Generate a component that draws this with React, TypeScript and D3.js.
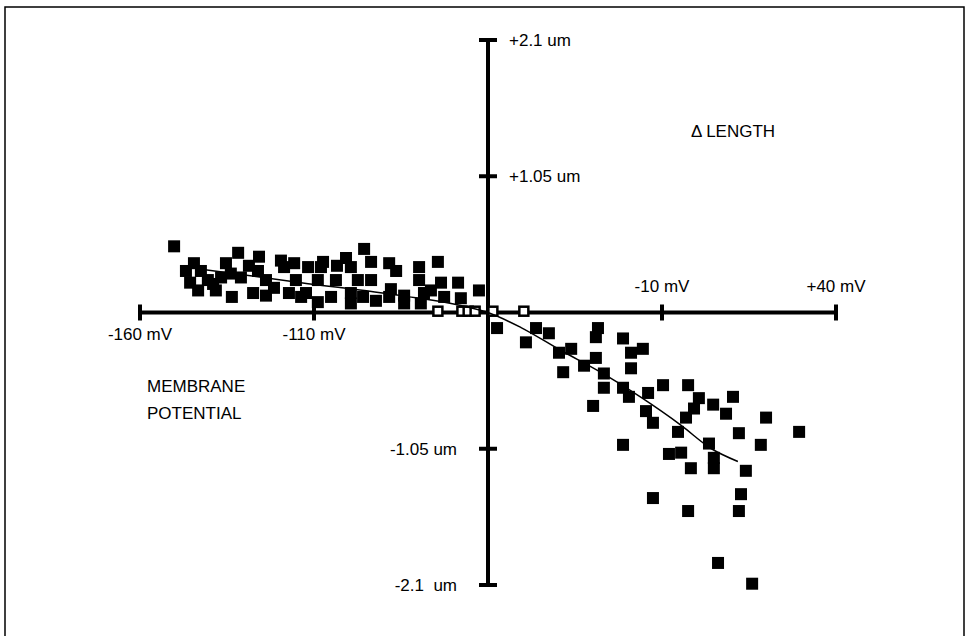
import React, { useEffect, useRef } from 'react';
import * as d3 from 'd3';

const width = 968;
const height = 636;

// membrane potential (mV) vs change in length (um)
const filledMv = [
  -150.2, -144.5, -145.6, -143.3, -140.5, -139, -135.3, -131.8, -133.6, -127.5,
  -125.8, -126.1, -131, -121.5, -118.6, -117.2, -115.7, -111.7, -112.3, -108,
  -119.5, -133.9, -136.7, -95.6, -100.8, -107.4, -93.6, -88.4, -99.4, -74.4,
  -79.8, -79.8, -68.6, -97.4, -93.6, -87.9, -108.9, -108.9, -99.4, -95.9,
  -88.4, -84.1, -78.4, -72.6, -62.6, -84.1, -79.3, -99.4, -105.1, -142.5,
  -123.8, -115.2, -103.7, -103.4, -128.7, -67.8, -138.2, -123.8, -113.7, -92.2,
  -86.4, -76.4, -73.5, -146.8,
  -57.4, -49.1, -46.2, -42.5, -39.6, -36.1, -38.4, -28.4, -29, -32.4,
  -29, -26.7, -21.2, -18.9, -15.5, -18.9, -26.7, -21.2, -29.8, -19.5,
  -14, -14.6, -9.7, -2.5, 0.6, -0.8, -3.1, 4.7, 10.4, 8.4,
  19.9, -12.6, -5.4, 12.1, 29.4, -21.2, -8, -4.5, 3.5, 4.9,
  18.4, -1.7, 4.9, 14.1, -12.6, -2.5, 12.7, 12.1, 6.1, 15.9,
];
const filledUm = [
  0.51, 0.38, 0.23, 0.17, 0.25, 0.22, 0.38, 0.46, 0.12, 0.15,
  0.43, 0.32, 0.27, 0.19, 0.35, 0.15, 0.38, 0.35, 0.15, 0.35,
  0.40, 0.30, 0.27, 0.49, 0.42, 0.39, 0.39, 0.38, 0.35, 0.39,
  0.35, 0.25, 0.23, 0.25, 0.25, 0.18, 0.25, 0.08, 0.15, 0.12,
  0.12, 0.13, 0.15, 0.12, 0.17, 0.07, 0.07, 0.07, 0.12, 0.32,
  0.25, 0.25, 0.25, 0.36, 0.36, 0.11, 0.17, 0.13, 0.12, 0.09,
  0.32, 0.17, 0.23, 0.32,
  -0.12, -0.23, -0.12, -0.16, -0.31, -0.28, -0.46, -0.12, -0.19, -0.41,
  -0.35, -0.47, -0.20, -0.31, -0.28, -0.43, -0.58, -0.58, -0.72, -0.65,
  -0.62, -0.76, -0.56, -0.56, -0.66, -0.74, -0.81, -0.71, -0.65, -0.78,
  -0.81, -0.85, -0.92, -0.93, -0.92, -1.02, -1.09, -1.08, -1.01, -1.12,
  -1.02, -1.20, -1.20, -1.22, -1.43, -1.53, -1.40, -1.53, -1.93, -2.09,
];

const openMv = [-74.4, -67.5, -65.7, -63.7, -58.6, -49.7];
const openUm = [0.01, 0.01, 0.01, 0.01, 0.01, 0.01];

const fitMv = [-144, -113.7, -85, -67.8, -60, -50.5, -39, -27.5, -16, -4.5, 4.1, 11.8];
const fitUm = [0.34, 0.23, 0.13, 0.054, 0, -0.116, -0.293, -0.462, -0.655, -0.87, -1.048, -1.148];

const xTicks = [-160, -110, -10, 40];
const xTickLabels = ['-160 mV', '-110 mV', '-10 mV', '+40 mV'];
const yTicks = [2.1, 1.05, -1.05, -2.1];
const yTickLabels = ['+2.1 um', '+1.05 um', '-1.05 um', '-2.1  um'];

const App = () => {
  const ref = useRef<SVGSVGElement>(null);

  useEffect(() => {
    const svg = d3.select(ref.current);
    svg.selectAll('*').remove();

    const x = d3.scaleLinear().domain([-160, 40]).range([140, 836]);
    const y = d3.scaleLinear().domain([-2.1, 2.1]).range([585, 40]);
    const font = '"Liberation Sans", Arial, sans-serif';
    const fs = '17px';

    svg.append('rect')
      .attr('x', 5).attr('y', 7)
      .attr('width', 959).attr('height', 650)
      .attr('fill', 'none').attr('stroke', '#000').attr('stroke-width', 1.5);

    // axes cross at (-60 mV, 0 um)
    svg.append('line')
      .attr('x1', x(-160)).attr('x2', x(40))
      .attr('y1', y(0)).attr('y2', y(0))
      .attr('stroke', '#000').attr('stroke-width', 4);
    svg.append('line')
      .attr('x1', x(-60)).attr('x2', x(-60))
      .attr('y1', y(2.1)).attr('y2', y(-2.1))
      .attr('stroke', '#000').attr('stroke-width', 4);

    xTicks.forEach((t, i) => {
      svg.append('line')
        .attr('x1', x(t)).attr('x2', x(t))
        .attr('y1', y(0) - 8).attr('y2', y(0) + 8)
        .attr('stroke', '#000').attr('stroke-width', 4);
      const above = t > -60;
      svg.append('text')
        .attr('x', x(t))
        .attr('y', above ? y(0) - 21 : y(0) + 27)
        .attr('text-anchor', 'middle')
        .style('font-family', font).style('font-size', fs)
        .text(xTickLabels[i]);
    });

    yTicks.forEach((t, i) => {
      svg.append('line')
        .attr('x1', x(-60) - 9).attr('x2', x(-60) + 9)
        .attr('y1', y(t)).attr('y2', y(t))
        .attr('stroke', '#000').attr('stroke-width', 4);
      const pos = t > 0;
      svg.append('text')
        .attr('x', pos ? x(-60) + 21 : x(-60) - 31)
        .attr('y', y(t) + 6)
        .attr('text-anchor', pos ? 'start' : 'end')
        .style('white-space', 'pre')
        .style('font-family', font).style('font-size', fs)
        .text(yTickLabels[i]);
    });

    svg.append('text')
      .attr('x', 691).attr('y', 137)
      .style('font-family', font).style('font-size', fs)
      .text('\u0394 LENGTH');
    svg.append('text')
      .attr('x', 147).attr('y', 392)
      .style('font-family', font).style('font-size', fs)
      .text('MEMBRANE');
    svg.append('text')
      .attr('x', 147).attr('y', 419)
      .style('font-family', font).style('font-size', fs)
      .text('POTENTIAL');

    const s = 12;
    svg.append('g')
      .selectAll('rect')
      .data(d3.range(filledMv.length))
      .enter()
      .append('rect')
      .attr('x', i => x(filledMv[i]) - s / 2)
      .attr('y', i => y(filledUm[i]) - s / 2)
      .attr('width', s).attr('height', s)
      .attr('fill', '#000');

    const o = 9;
    svg.append('g')
      .selectAll('rect')
      .data(d3.range(openMv.length))
      .enter()
      .append('rect')
      .attr('x', i => x(openMv[i]) - o / 2)
      .attr('y', i => y(openUm[i]) - o / 2)
      .attr('width', o).attr('height', o)
      .attr('fill', '#fff').attr('stroke', '#000').attr('stroke-width', 2.5);

    const line = d3.line<number>()
      .x(i => x(fitMv[i]))
      .y(i => y(fitUm[i]))
      .curve(d3.curveMonotoneX);
    svg.append('path')
      .attr('d', line(d3.range(fitMv.length)))
      .attr('fill', 'none').attr('stroke', '#000').attr('stroke-width', 1.5);
  }, []);

  return (
    <svg ref={ref} width={width} height={height}
      style={{ position: 'absolute', left: 0, top: 0, background: '#fff' }} />
  );
};

export default App;
